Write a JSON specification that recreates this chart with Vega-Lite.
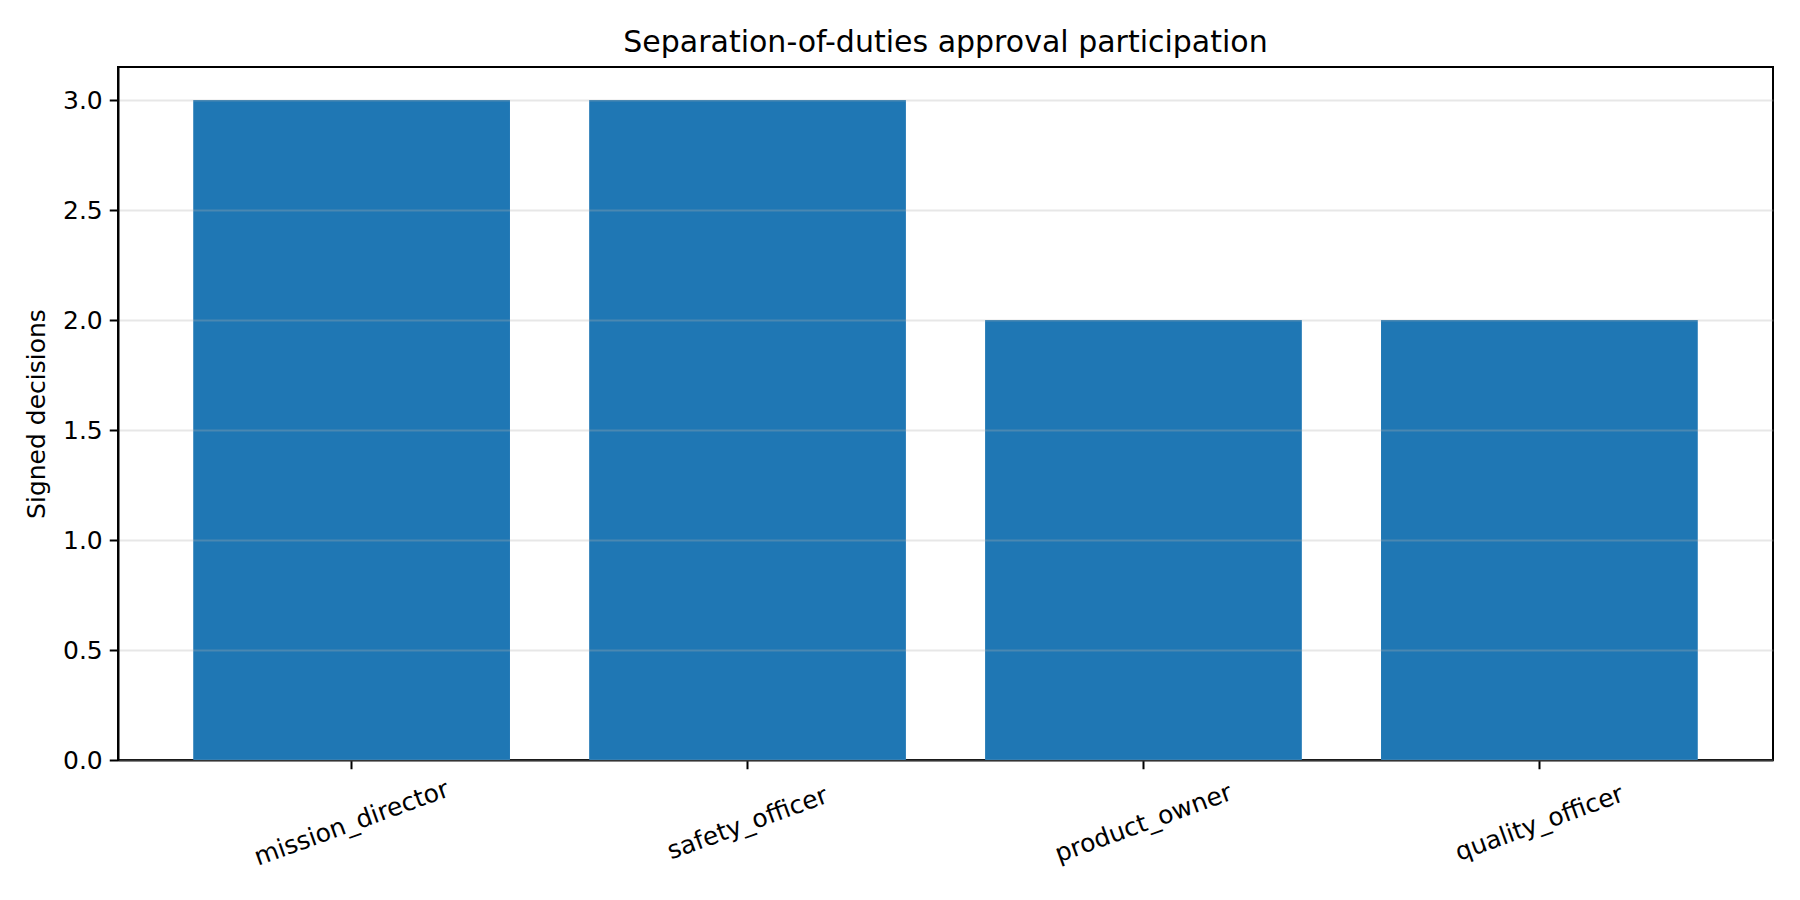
{
  "$schema": "https://vega.github.io/schema/vega-lite/v6.json",
  "autosize": {"type": "none"},
  "padding": {"left": 118, "top": 67, "right": 27, "bottom": 140},
  "width": 1655,
  "height": 693,
  "background": "white",
  "config": {
    "font": "DejaVu Sans",
    "view": {"stroke": "black", "strokeWidth": 2},
    "axis": {
      "domainColor": "black",
      "domainWidth": 2,
      "tickColor": "black",
      "tickWidth": 2,
      "tickSize": 8.75,
      "labelColor": "black",
      "labelFontSize": 25,
      "labelLimit": 0,
      "titleColor": "black",
      "titleFontSize": 25,
      "titleFontWeight": "normal"
    }
  },
  "title": {
    "text": "Separation-of-duties approval participation",
    "fontSize": 30,
    "fontWeight": "normal",
    "color": "black",
    "offset": 9
  },
  "data": {
    "values": [
      {"role": "mission_director", "decisions": 3},
      {"role": "safety_officer", "decisions": 3},
      {"role": "product_owner", "decisions": 2},
      {"role": "quality_officer", "decisions": 2}
    ]
  },
  "mark": {"type": "bar", "color": "#1f77b4"},
  "encoding": {
    "x": {
      "field": "role",
      "type": "nominal",
      "sort": null,
      "scale": {"paddingInner": 0.2, "paddingOuter": 0.19},
      "axis": {
        "title": null,
        "labelAngle": -20,
        "labelAlign": "center",
        "labelBaseline": "middle",
        "labelPadding": 54,
        "labelLimit": 0,
        "grid": false
      }
    },
    "y": {
      "field": "decisions",
      "type": "quantitative",
      "scale": {"domain": [0, 3.15], "nice": false, "zero": true},
      "axis": {
        "title": "Signed decisions",
        "values": [0, 0.5, 1, 1.5, 2, 2.5, 3],
        "format": ".1f",
        "labelPadding": 7,
        "titlePadding": 13,
        "grid": true,
        "gridColor": "#b0b0b0",
        "gridOpacity": 0.3,
        "gridWidth": 2,
        "zindex": 1
      }
    }
  }
}
